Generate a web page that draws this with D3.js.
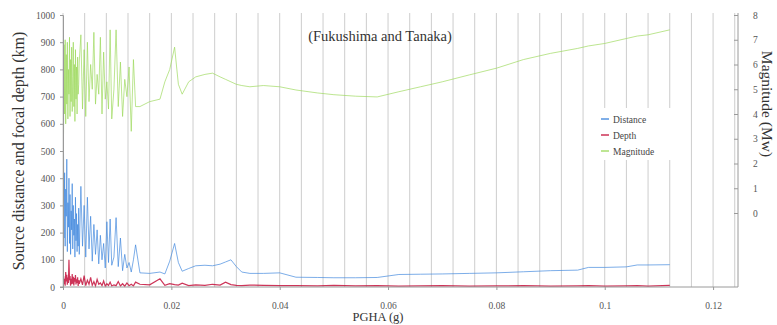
<!DOCTYPE html>
<html>
<head>
<meta charset="utf-8">
<script src="https://cdn.jsdelivr.net/npm/d3@7"></script>
<style>
  html, body { margin: 0; padding: 0; background: #fff; }
  svg { display: block; }
  text { font-family: "Liberation Serif", "DejaVu Serif", serif; }
</style>
</head>
<body>
<svg id="chart" width="777" height="325"></svg>
<script>
// PGHA (g) of each record, sorted ascending
const pgha = [
  0.0001,0.0002,0.0003,0.0004,0.0005,0.0006,0.0007,0.0008,0.0009,0.0010,
  0.0011,0.0012,0.0013,0.0014,0.0015,0.0016,0.0017,0.0018,0.0019,0.0020,
  0.0021,0.0022,0.0023,0.0024,0.0025,0.0026,0.0027,0.0028,0.0029,0.0030,
  0.0033,0.0036,0.0039,0.0042,0.0045,0.0048,0.0051,0.0054,0.0057,0.0060,
  0.0063,0.0066,0.0069,0.0072,0.0075,0.0078,0.0081,0.0084,0.0087,0.0090,
  0.0094,0.0098,0.0102,0.0106,0.0110,0.0114,0.0118,0.0122,0.0126,0.0130,0.0134,
  0.0142,0.0160,0.0179,0.0188,0.0197,0.0206,0.0213,0.0220,0.0232,0.0245,
  0.0262,0.0276,0.0290,0.0300,0.0310,0.0320,0.0330,0.0345,0.0370,0.0400,
  0.0430,0.0470,0.0500,0.0540,0.0580,0.0620,0.0660,0.0700,0.0750,0.0800,
  0.0850,0.0900,0.0950,0.0970,0.1000,0.1040,0.1060,0.1080,0.1120
];

// Source distance (km)
const distance = [
  490,180,420,150,360,260,470,130,310,220,
  400,160,340,120,280,210,380,140,300,190,
  250,110,330,170,270,130,230,150,290,120,
  370,150,300,110,330,140,260,95,230,120,
  210,85,190,100,160,70,240,90,250,80,
  110,255,75,180,60,120,70,90,55,100,155,
  52,50,55,48,95,160,90,58,68,78,
  80,78,84,92,100,75,55,50,50,52,
  36,35,34,34,35,46,47,48,50,52,
  56,60,62,72,72,74,81,81,82
];

// Focal depth (km)
const depth = [
  40,10,30,5,55,20,45,8,35,15,
  100,25,40,5,30,10,48,12,38,6,
  33,20,44,9,28,15,36,4,25,12,
  30,8,42,5,25,10,35,6,20,4,
  28,10,15,5,22,3,12,6,18,4,
  8,5,20,4,12,3,15,5,10,4,18,
  10,8,30,6,12,9,7,14,5,8,
  6,10,7,18,9,6,5,7,6,5,
  5,4,6,4,5,3,4,5,3,4,
  5,3,4,5,3,4,5,3,6
];

// Moment magnitude (Mw)
const magnitude = [
  3.2,6.8,4.0,7.0,3.6,6.4,4.4,6.9,3.8,5.8,
  4.8,7.1,3.9,6.2,4.5,6.7,4.1,5.5,6.9,4.3,
  6.0,3.7,6.6,4.6,5.9,4.0,6.3,4.8,5.2,6.1,
  7.2,4.2,6.6,3.9,6.9,4.5,6.0,5.0,7.3,4.4,
  5.6,4.8,7.1,4.0,6.5,4.6,5.3,4.2,7.4,3.8,
  5.0,7.4,4.3,6.1,3.9,5.4,4.7,5.9,3.3,6.2,4.3,
  4.3,4.5,4.6,5.3,5.8,6.7,5.2,4.8,5.3,5.5,
  5.6,5.65,5.5,5.4,5.3,5.2,5.15,5.1,5.15,5.1,
  4.97,4.85,4.78,4.72,4.69,4.9,5.1,5.3,5.58,5.85,
  6.2,6.45,6.65,6.75,6.85,7.05,7.15,7.2,7.4
];

const xTicks = [0, 0.02, 0.04, 0.06, 0.08, 0.1, 0.12];
const xTickLabels = ["0", "0.02", "0.04", "0.06", "0.08", "0.1", "0.12"];
const leftTicks = [0,100,200,300,400,500,600,700,800,900,1000];
const rightTicks = [0,1,2,3,4,5,6,7,8];
const seriesNames = ["Distance", "Depth", "Magnitude"];
const seriesColors = ["#3b84dc", "#c4123c", "#9bd85a"];

const svg = d3.select("#chart");
const plot = { left: 63, right: 738, top: 13, bottom: 287 };
const serif = "Liberation Serif, DejaVu Serif, serif";

const x = d3.scaleLinear().domain([0, 0.1246]).range([plot.left, plot.right]);
const yKm = d3.scaleLinear().domain([0, 1000]).range([plot.bottom, 15]);
const yMag = d3.scaleLinear().domain([0, 8]).range([213, 15]);

// vertical grid every 0.004 g
const gridVals = d3.range(0, 0.1241, 0.004);
svg.append("g")
  .selectAll("line")
  .data(gridVals)
  .join("line")
  .attr("x1", d => x(d)).attr("x2", d => x(d))
  .attr("y1", plot.top).attr("y2", plot.bottom)
  .attr("stroke", "#cdcdcd")
  .attr("stroke-width", 1);

// data series
const idx = d3.range(pgha.length);
const lineKm = vals => d3.line().x(i => x(pgha[i])).y(i => yKm(vals[i]));
const lineMag = d3.line().x(i => x(pgha[i])).y(i => yMag(magnitude[i]));

svg.append("path")
  .attr("d", lineMag(idx))
  .attr("fill", "none")
  .attr("stroke", seriesColors[2])
  .attr("stroke-opacity", 0.75)
  .attr("stroke-width", 0.9);

svg.append("path")
  .attr("d", lineKm(distance)(idx))
  .attr("fill", "none")
  .attr("stroke", seriesColors[0])
  .attr("stroke-opacity", 0.75)
  .attr("stroke-width", 0.9);

svg.append("path")
  .attr("d", lineKm(depth)(idx))
  .attr("fill", "none")
  .attr("stroke", seriesColors[1])
  .attr("stroke-opacity", 0.85)
  .attr("stroke-width", 1.2);

// axes
const axisColor = "#9a9a9a";
const tickFont = 9.5;
function styleAxis(g) {
  g.attr("font-family", serif).attr("font-size", tickFont);
  g.selectAll(".tick line").attr("stroke", axisColor);
  g.selectAll(".tick text").attr("fill", "#555");
}

const xAxis = d3.axisBottom(x).tickValues(xTicks)
  .tickFormat((d, i) => xTickLabels[i]).tickSize(3).tickPadding(12);
const gx = svg.append("g").attr("transform", `translate(0,${plot.bottom})`).call(xAxis);
gx.select(".domain").attr("stroke", axisColor).attr("d", `M${plot.left - 3},0H${plot.right}`);
styleAxis(gx);

const yAxisL = d3.axisLeft(yKm).tickValues(leftTicks)
  .tickFormat(d3.format("d")).tickSize(3).tickPadding(5);
const gyl = svg.append("g").attr("transform", `translate(${plot.left},0)`).call(yAxisL);
gyl.select(".domain").attr("stroke", axisColor);
styleAxis(gyl);

const yAxisR = d3.axisRight(yMag).tickValues(rightTicks)
  .tickFormat(d3.format("d")).tickSize(-4).tickPadding(15);
const gyr = svg.append("g").attr("transform", `translate(${plot.right},0)`).call(yAxisR);
gyr.select(".domain").attr("stroke", axisColor).attr("d", `M0,${plot.bottom}V${plot.top}`);
styleAxis(gyr);

// titles
svg.append("text")
  .attr("x", 380).attr("y", 41)
  .attr("text-anchor", "middle")
  .attr("fill", "#333")
  .style("font-size", "14.5px")
  .text("(Fukushima and Tanaka)");

svg.append("text")
  .attr("transform", "translate(24,151) rotate(-90)")
  .attr("text-anchor", "middle")
  .attr("fill", "#333")
  .style("font-size", "16px")
  .text("Source distance and focal depth (km)");

svg.append("text")
  .attr("transform", "translate(762,104) rotate(90)")
  .attr("text-anchor", "middle")
  .attr("fill", "#333")
  .style("font-size", "15.5px")
  .text("Magnitude (Mw)");

svg.append("text")
  .attr("x", 378).attr("y", 321)
  .attr("text-anchor", "middle")
  .attr("fill", "#333")
  .style("font-size", "12.5px")
  .text("PGHA (g)");

// legend
const legend = svg.append("g").attr("transform", "translate(597,108)");
legend.append("rect").attr("width", 76).attr("height", 52).attr("fill", "#fff");
const items = legend.selectAll("g.item")
  .data(seriesNames)
  .join("g")
  .attr("class", "item")
  .attr("transform", (d, i) => `translate(0,${11 + i * 16})`);
items.append("line")
  .attr("x1", 4).attr("x2", 12).attr("y1", 0).attr("y2", 0)
  .attr("stroke", (d, i) => seriesColors[i]).attr("stroke-width", 1.3);
items.append("text")
  .attr("x", 16).attr("y", 3.5)
  .attr("fill", "#444")
  .style("font-size", "9.5px")
  .text(d => d);
</script>
</body>
</html>
